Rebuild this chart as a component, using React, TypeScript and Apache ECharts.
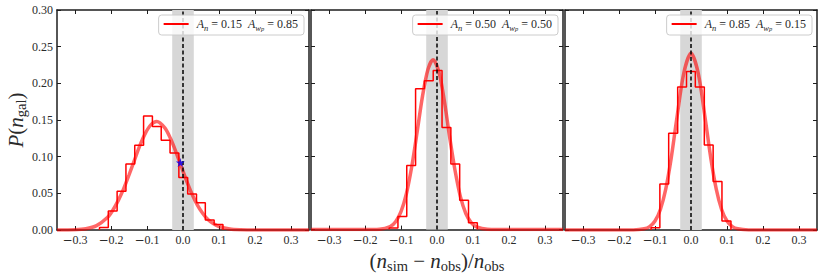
import { useEffect, useRef } from 'react';
import * as echarts from 'echarts';

// ---- data ----
const xTicks = [-0.3, -0.2, -0.1, 0.0, 0.1, 0.2, 0.3];
const xMin = -0.35;
const xMax = 0.35;
const yMin = 0;
const yMax = 0.3;
const yStep = 0.05;
const bandHalfWidth = 0.03;
const refLine = 0;

const anValues = ['0.15', '0.50', '0.85'];
const awpValues = ['0.85', '0.50', '0.15'];

const edges1 = [-0.232, -0.2075, -0.183, -0.1585, -0.134, -0.1095, -0.085, -0.0605, -0.036, -0.0115, 0.013, 0.0375, 0.062, 0.0865, 0.111];
const heights1 = [0.0035, 0.026, 0.053, 0.09, 0.1155, 0.1555, 0.141, 0.1225, 0.105, 0.0717, 0.049, 0.037, 0.0135, 0.0075];

const edges2 = [-0.133, -0.1085, -0.084, -0.0595, -0.035, -0.0105, 0.014, 0.0385, 0.063, 0.0875, 0.112];
const heights2 = [0.0023, 0.018, 0.0875, 0.1925, 0.2035, 0.2175, 0.1395, 0.0895, 0.04, 0.0095];

const edges3 = [-0.111, -0.0865, -0.062, -0.037, -0.0125, 0.012, 0.037, 0.0615, 0.086, 0.111];
const heights3 = [0.003, 0.0626, 0.132, 0.195, 0.216, 0.195, 0.116, 0.066, 0.0123];

const curveX1 = [-0.35, -0.3, -0.27, -0.24, -0.21, -0.195, -0.18, -0.165, -0.15, -0.135, -0.12, -0.105, -0.09, -0.073, -0.05, -0.035, -0.02, -0.005, 0.01, 0.025, 0.04, 0.055, 0.07, 0.085, 0.1, 0.13, 0.16, 0.2, 0.35];
const curveY1 = [0, 0.0004, 0.0017, 0.006, 0.017, 0.027, 0.04, 0.056, 0.075, 0.095, 0.115, 0.1315, 0.143, 0.148, 0.139, 0.125, 0.107, 0.087, 0.067, 0.049, 0.034, 0.0226, 0.014, 0.0084, 0.0048, 0.0013, 0.0003, 0, 0];

const curveX2 = [-0.35, -0.2, -0.16, -0.13, -0.115, -0.1, -0.085, -0.07, -0.055, -0.04, -0.025, -0.011, 0.005, 0.02, 0.035, 0.05, 0.065, 0.08, 0.095, 0.11, 0.14, 0.2, 0.35];
const curveY2 = [0, 0, 0.0004, 0.0042, 0.0108, 0.0246, 0.049, 0.0865, 0.134, 0.183, 0.219, 0.232, 0.216, 0.177, 0.127, 0.081, 0.045, 0.022, 0.0096, 0.0037, 0.0004, 0, 0];

const curveX3 = [-0.35, -0.2, -0.16, -0.13, -0.115, -0.1, -0.085, -0.07, -0.055, -0.04, -0.02, 0.0, 0.02, 0.04, 0.055, 0.07, 0.085, 0.1, 0.115, 0.13, 0.16, 0.2, 0.35];
const curveY3 = [0, 0, 0.0001, 0.0016, 0.0047, 0.0123, 0.028, 0.056, 0.098, 0.15, 0.214, 0.241, 0.214, 0.15, 0.098, 0.056, 0.028, 0.0123, 0.0047, 0.0016, 0.0001, 0, 0];

const starPoint = [-0.0075, 0.092];

// ---- layout / style ----
const W = 822;
const H = 278;
const GRID_LEFTS = [57, 311, 565];
const GRID_W = 252;
const GRID_TOP = 10;
const GRID_H = 220;
const FONT = "'Liberation Serif', 'Times New Roman', serif";
const TXT = '#2a2a2a';
const SPINE = '#1e1e1e';

const panels = [
  { edges: edges1, heights: heights1, cx: curveX1, cy: curveY1 },
  { edges: edges2, heights: heights2, cx: curveX2, cy: curveY2 },
  { edges: edges3, heights: heights3, cx: curveX3, cy: curveY3 },
];

function stepPoints(edges: number[], heights: number[]) {
  const pts: number[][] = [[edges[0], 0]];
  heights.forEach((h, k) => {
    pts.push([edges[k], h]);
    pts.push([edges[k + 1], h]);
  });
  pts.push([edges[edges.length - 1], 0]);
  return pts;
}

const tickRich = {
  d: { fontFamily: FONT, fontSize: 12, color: TXT },
  m: { fontFamily: "'DejaVu Serif', serif", fontSize: 12, color: TXT },
};

const nameRich = {
  i: { fontFamily: FONT, fontStyle: 'italic', fontSize: 21, lineHeight: 24, color: TXT },
  r: { fontFamily: FONT, fontSize: 21, lineHeight: 24, color: TXT },
  s: { fontFamily: FONT, fontSize: 14.5, lineHeight: 13, verticalAlign: 'bottom', color: TXT },
};

const legendRich = {
  i: { fontFamily: FONT, fontStyle: 'italic', fontSize: 12, lineHeight: 16, color: TXT },
  r: { fontFamily: FONT, fontSize: 12, lineHeight: 16, color: TXT },
  s: { fontFamily: FONT, fontStyle: 'italic', fontSize: 8.5, lineHeight: 9, verticalAlign: 'bottom', color: TXT },
  p: { fontFamily: FONT, fontStyle: 'italic', fontSize: 6.5, lineHeight: 4, verticalAlign: 'bottom', color: TXT },
};

const STAR = 'path://M50,0 L61,35 L98,35 L68,57 L79,91 L50,70 L21,91 L32,57 L2,35 L39,35 Z';

function buildOption() {
  const grid = GRID_LEFTS.map((l) => ({ left: l, top: GRID_TOP, width: GRID_W, height: GRID_H }));
  const xAxis: any[] = [];
  const yAxis: any[] = [];
  const lineStyle = { color: SPINE, width: 1.5 };
  const tickStyle = { color: SPINE, width: 1 };
  GRID_LEFTS.forEach((_, i) => {
    xAxis.push({
      type: 'value', gridIndex: i, position: 'bottom', min: xMin, max: xMax,
      axisLine: { show: true, onZero: false, lineStyle },
      axisTick: { show: true, inside: true, length: 4, lineStyle: tickStyle, customValues: xTicks },
      axisLabel: {
        show: true, margin: 4, customValues: xTicks,
        formatter: (v: number) => {
          const s = Math.abs(v).toFixed(1);
          return v < -1e-9 ? `{m|\u2212}{d|${s}}` : `{d|${s}}`;
        },
        rich: tickRich,
      },
      splitLine: { show: false },
      name: i === 1 ? '{r|(}{i|n}{s|sim}{r| \u2212 }{i|n}{s|obs}{r|)/}{i|n}{s|obs}' : '',
      nameLocation: 'middle', nameGap: 18,
      nameTextStyle: { rich: nameRich },
    });
    xAxis.push({
      type: 'value', gridIndex: i, position: 'top', min: xMin, max: xMax,
      axisLine: { show: true, onZero: false, lineStyle },
      axisTick: { show: true, inside: true, length: 4, lineStyle: tickStyle, customValues: xTicks },
      axisLabel: { show: false },
      splitLine: { show: false },
    });
    yAxis.push({
      type: 'value', gridIndex: i, position: 'left', min: yMin, max: yMax, interval: yStep,
      axisLine: { show: true, onZero: false, lineStyle },
      axisTick: { show: true, inside: true, length: 4, lineStyle: tickStyle },
      axisLabel: {
        show: i === 0, margin: 4, fontFamily: FONT, fontSize: 12, color: TXT,
        formatter: (v: number) => v.toFixed(2),
      },
      splitLine: { show: false },
      name: i === 0 ? '{i|P}{r|(}{i|n}{s|gal}{r|)}' : '',
      nameLocation: 'middle', nameGap: 28,
      nameTextStyle: { rich: nameRich },
    });
    yAxis.push({
      type: 'value', gridIndex: i, position: 'right', min: yMin, max: yMax, interval: yStep,
      axisLine: { show: true, onZero: false, lineStyle },
      axisTick: { show: true, inside: true, length: 4, lineStyle: tickStyle },
      axisLabel: { show: false },
      splitLine: { show: false },
    });
  });

  const series: any[] = [];
  panels.forEach((p, i) => {
    const xi = 2 * i;
    const yi = 2 * i;
    series.push({
      type: 'line', xAxisIndex: xi, yAxisIndex: yi, z: 1, silent: true,
      data: [[-bandHalfWidth, 0], [bandHalfWidth, 0]], symbol: 'none',
      lineStyle: { opacity: 0 },
      markArea: {
        silent: true, itemStyle: { color: '#d7d7d7' },
        data: [[{ xAxis: -bandHalfWidth }, { xAxis: bandHalfWidth }]],
      },
    });
    series.push({
      type: 'line', xAxisIndex: xi, yAxisIndex: yi, z: 2, silent: true,
      data: p.cx.map((x, k) => [x, p.cy[k]]), symbol: 'none', smooth: 0.3,
      lineStyle: { color: 'rgba(255,0,0,0.6)', width: 3.5 },
    });
    series.push({
      name: 'h' + i,
      type: 'line', xAxisIndex: xi, yAxisIndex: yi, z: 3, silent: true,
      data: stepPoints(p.edges, p.heights), symbol: 'none',
      itemStyle: { color: '#ff0000' },
      lineStyle: { color: '#ff0000', width: 1.5 },
    });
    series.push({
      type: 'line', xAxisIndex: xi, yAxisIndex: yi, z: 4, silent: true,
      data: [[refLine, 0]], symbol: 'none', lineStyle: { opacity: 0 },
      markLine: {
        silent: true, symbol: ['none', 'none'], label: { show: false },
        lineStyle: { color: '#000', type: [4, 2.5], width: 1.5 },
        data: [{ xAxis: refLine }],
      },
    });
  });
  series.push({
    type: 'scatter', xAxisIndex: 0, yAxisIndex: 0, z: 5, silent: true,
    data: [starPoint], symbol: STAR, symbolSize: 9,
    itemStyle: { color: '#0000ff' },
  });

  const legend = GRID_LEFTS.map((l, i) => ({
    data: ['h' + i],
    right: W - (l + GRID_W - 5), top: 15,
    selectedMode: false, orient: 'horizontal',
    icon: 'rect', itemWidth: 25, itemHeight: 2,
    itemStyle: { color: '#ff0000' },
    padding: [3, 6, 3, 5],
    backgroundColor: 'rgba(255,255,255,0.8)', borderColor: '#cccccc', borderWidth: 1, borderRadius: 3,
    formatter: () => `{r| }{i|A}{s|n}{r| = ${anValues[i]}  }{i|A}{s|w}{p|p}{r| = ${awpValues[i]}}`,
    textStyle: { rich: legendRich },
    z: 10,
  }));

  return { animation: false, backgroundColor: '#fff', grid, xAxis, yAxis, series, legend };
}

export default function App() {
  const ref = useRef<HTMLDivElement>(null);
  useEffect(() => {
    if (!ref.current) return;
    const chart = echarts.init(ref.current, null, { renderer: 'svg' });
    chart.setOption(buildOption() as any);
    return () => chart.dispose();
  }, []);
  return <div ref={ref} style={{ position: 'fixed', left: 0, top: 0, width: W, height: H }} />;
}
